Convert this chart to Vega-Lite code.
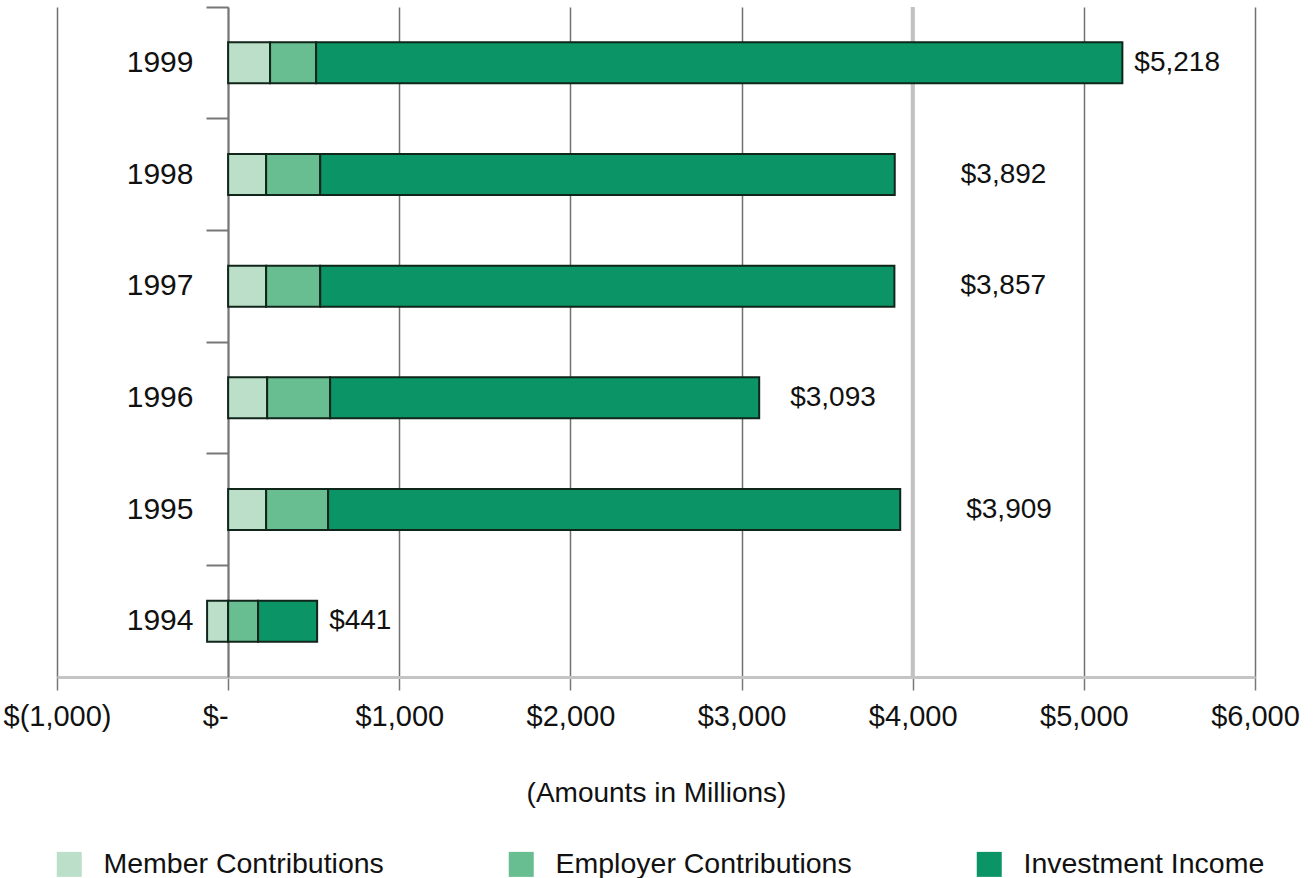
{
  "$schema": "https://vega.github.io/schema/vega-lite/v6.json",
  "width": 1198,
  "height": 670,
  "autosize": {"type": "none"},
  "padding": {"left": 57, "top": 7, "right": 60, "bottom": 201},
  "background": "white",
  "config": {"view": {"stroke": null}, "font": "Liberation Sans"},
  "data": {
    "values": [
      {"year": "1999", "component": "Member Contributions", "seq": 1, "amount": 245, "total": 5218},
      {"year": "1999", "component": "Employer Contributions", "seq": 2, "amount": 269, "total": 5218},
      {"year": "1999", "component": "Investment Income", "seq": 3, "amount": 4711, "total": 5218},
      {"year": "1998", "component": "Member Contributions", "seq": 1, "amount": 222, "total": 3892},
      {"year": "1998", "component": "Employer Contributions", "seq": 2, "amount": 316, "total": 3892},
      {"year": "1998", "component": "Investment Income", "seq": 3, "amount": 3357, "total": 3892},
      {"year": "1997", "component": "Member Contributions", "seq": 1, "amount": 222, "total": 3857},
      {"year": "1997", "component": "Employer Contributions", "seq": 2, "amount": 316, "total": 3857},
      {"year": "1997", "component": "Investment Income", "seq": 3, "amount": 3355, "total": 3857},
      {"year": "1996", "component": "Member Contributions", "seq": 1, "amount": 228, "total": 3093},
      {"year": "1996", "component": "Employer Contributions", "seq": 2, "amount": 368, "total": 3093},
      {"year": "1996", "component": "Investment Income", "seq": 3, "amount": 2507, "total": 3093},
      {"year": "1995", "component": "Member Contributions", "seq": 1, "amount": 222, "total": 3909},
      {"year": "1995", "component": "Employer Contributions", "seq": 2, "amount": 362, "total": 3909},
      {"year": "1995", "component": "Investment Income", "seq": 3, "amount": 3343, "total": 3909},
      {"year": "1994", "component": "Member Contributions", "seq": 1, "amount": -123, "total": 441},
      {"year": "1994", "component": "Employer Contributions", "seq": 2, "amount": 175, "total": 441},
      {"year": "1994", "component": "Investment Income", "seq": 3, "amount": 345, "total": 441}
    ]
  },
  "layer": [
    {
      "data": {"values": [{}]},
      "mark": {"type": "rule", "color": "#c2c2c2", "strokeWidth": 4},
      "encoding": {"x": {"datum": 4000, "type": "quantitative", "title": "(Amounts in Millions)"}}
    },
    {
      "mark": {"type": "bar", "size": 41, "stroke": "#10261b", "strokeWidth": 2},
      "encoding": {
        "y": {
          "field": "year", "type": "nominal", "sort": "descending", "title": null,
          "scale": {"paddingInner": 0, "paddingOuter": 0},
          "axis": {
            "offset": -171, "bandPosition": 0, "tickSize": 22, "tickColor": "#777777", "tickWidth": 2,
            "domainColor": "#777777", "domainWidth": 2, "labelFontSize": 30, "labelColor": "#111111",
            "labelPadding": 13, "labelAngle": 0
          }
        },
        "x": {
          "field": "amount", "type": "quantitative", "stack": "zero", "title": "(Amounts in Millions)",
          "scale": {"domain": [-1000, 6000], "nice": false, "zero": false},
          "axis": {
            "values": [-1000, 0, 1000, 2000, 3000, 4000, 5000, 6000],
            "labelExpr": "datum.value < 0 ? '$(' + format(-datum.value, ',') + ')' : datum.value == 0 ? '$-' : '$' + format(datum.value, ',')",
            "labelAlign": {"condition": {"test": "datum.value == 0", "value": "right"}, "value": "center"},
            "grid": true, "gridColor": "#707070", "gridWidth": 1.5,
            "domainColor": "#c4c4c4", "domainWidth": 3,
            "tickColor": "#777777", "tickSize": 13, "tickWidth": 1.5,
            "labelFontSize": 29, "labelColor": "#111111", "labelPadding": 12, "labelFlush": false, "labelOverlap": false,
            "titleFontSize": 28, "titleFontWeight": "normal", "titleColor": "#111111", "titlePadding": 48
          }
        },
        "color": {
          "field": "component", "type": "nominal",
          "scale": {
            "domain": ["Member Contributions", "Employer Contributions", "Investment Income"],
            "range": ["#bcdfc9", "#69be91", "#0b9567"]
          },
          "legend": {
            "orient": "none", "legendX": -2, "legendY": 843, "direction": "horizontal", "title": null,
            "symbolType": "square", "symbolSize": 625, "symbolStrokeWidth": 0, "symbolOpacity": 1,
            "labelFontSize": 28.5, "labelColor": "#111111", "labelOffset": 20, "columnPadding": 123,
            "labelLimit": 500, "padding": 0
          }
        },
        "order": {"field": "seq", "type": "quantitative"}
      }
    },
    {
      "transform": [
        {"filter": "datum.amount > 0"},
        {"aggregate": [{"op": "sum", "field": "amount", "as": "end"}], "groupby": ["year", "total"]},
        {"filter": {"field": "year", "oneOf": ["1999", "1994"]}}
      ],
      "mark": {"type": "text", "align": "left", "baseline": "middle", "dx": 12, "fontSize": 28, "color": "#111111"},
      "encoding": {
        "y": {"field": "year", "type": "nominal", "sort": "descending", "title": null},
        "x": {"field": "end", "type": "quantitative", "title": "(Amounts in Millions)"},
        "text": {"field": "total", "type": "quantitative", "format": "$,.0f"}
      }
    },
    {
      "transform": [
        {"filter": "datum.amount > 0"},
        {"aggregate": [{"op": "sum", "field": "amount", "as": "end"}], "groupby": ["year", "total"]},
        {"filter": {"field": "year", "oneOf": ["1996"]}}
      ],
      "mark": {"type": "text", "align": "left", "baseline": "middle", "dx": 31, "fontSize": 28, "color": "#111111"},
      "encoding": {
        "y": {"field": "year", "type": "nominal", "sort": "descending", "title": null},
        "x": {"field": "end", "type": "quantitative", "title": "(Amounts in Millions)"},
        "text": {"field": "total", "type": "quantitative", "format": "$,.0f"}
      }
    },
    {
      "transform": [
        {"filter": "datum.amount > 0"},
        {"aggregate": [{"op": "sum", "field": "amount", "as": "end"}], "groupby": ["year", "total"]},
        {"filter": {"field": "year", "oneOf": ["1998", "1997", "1995"]}}
      ],
      "mark": {"type": "text", "align": "left", "baseline": "middle", "dx": 66, "fontSize": 28, "color": "#111111"},
      "encoding": {
        "y": {"field": "year", "type": "nominal", "sort": "descending", "title": null},
        "x": {"field": "end", "type": "quantitative", "title": "(Amounts in Millions)"},
        "text": {"field": "total", "type": "quantitative", "format": "$,.0f"}
      }
    }
  ]
}
